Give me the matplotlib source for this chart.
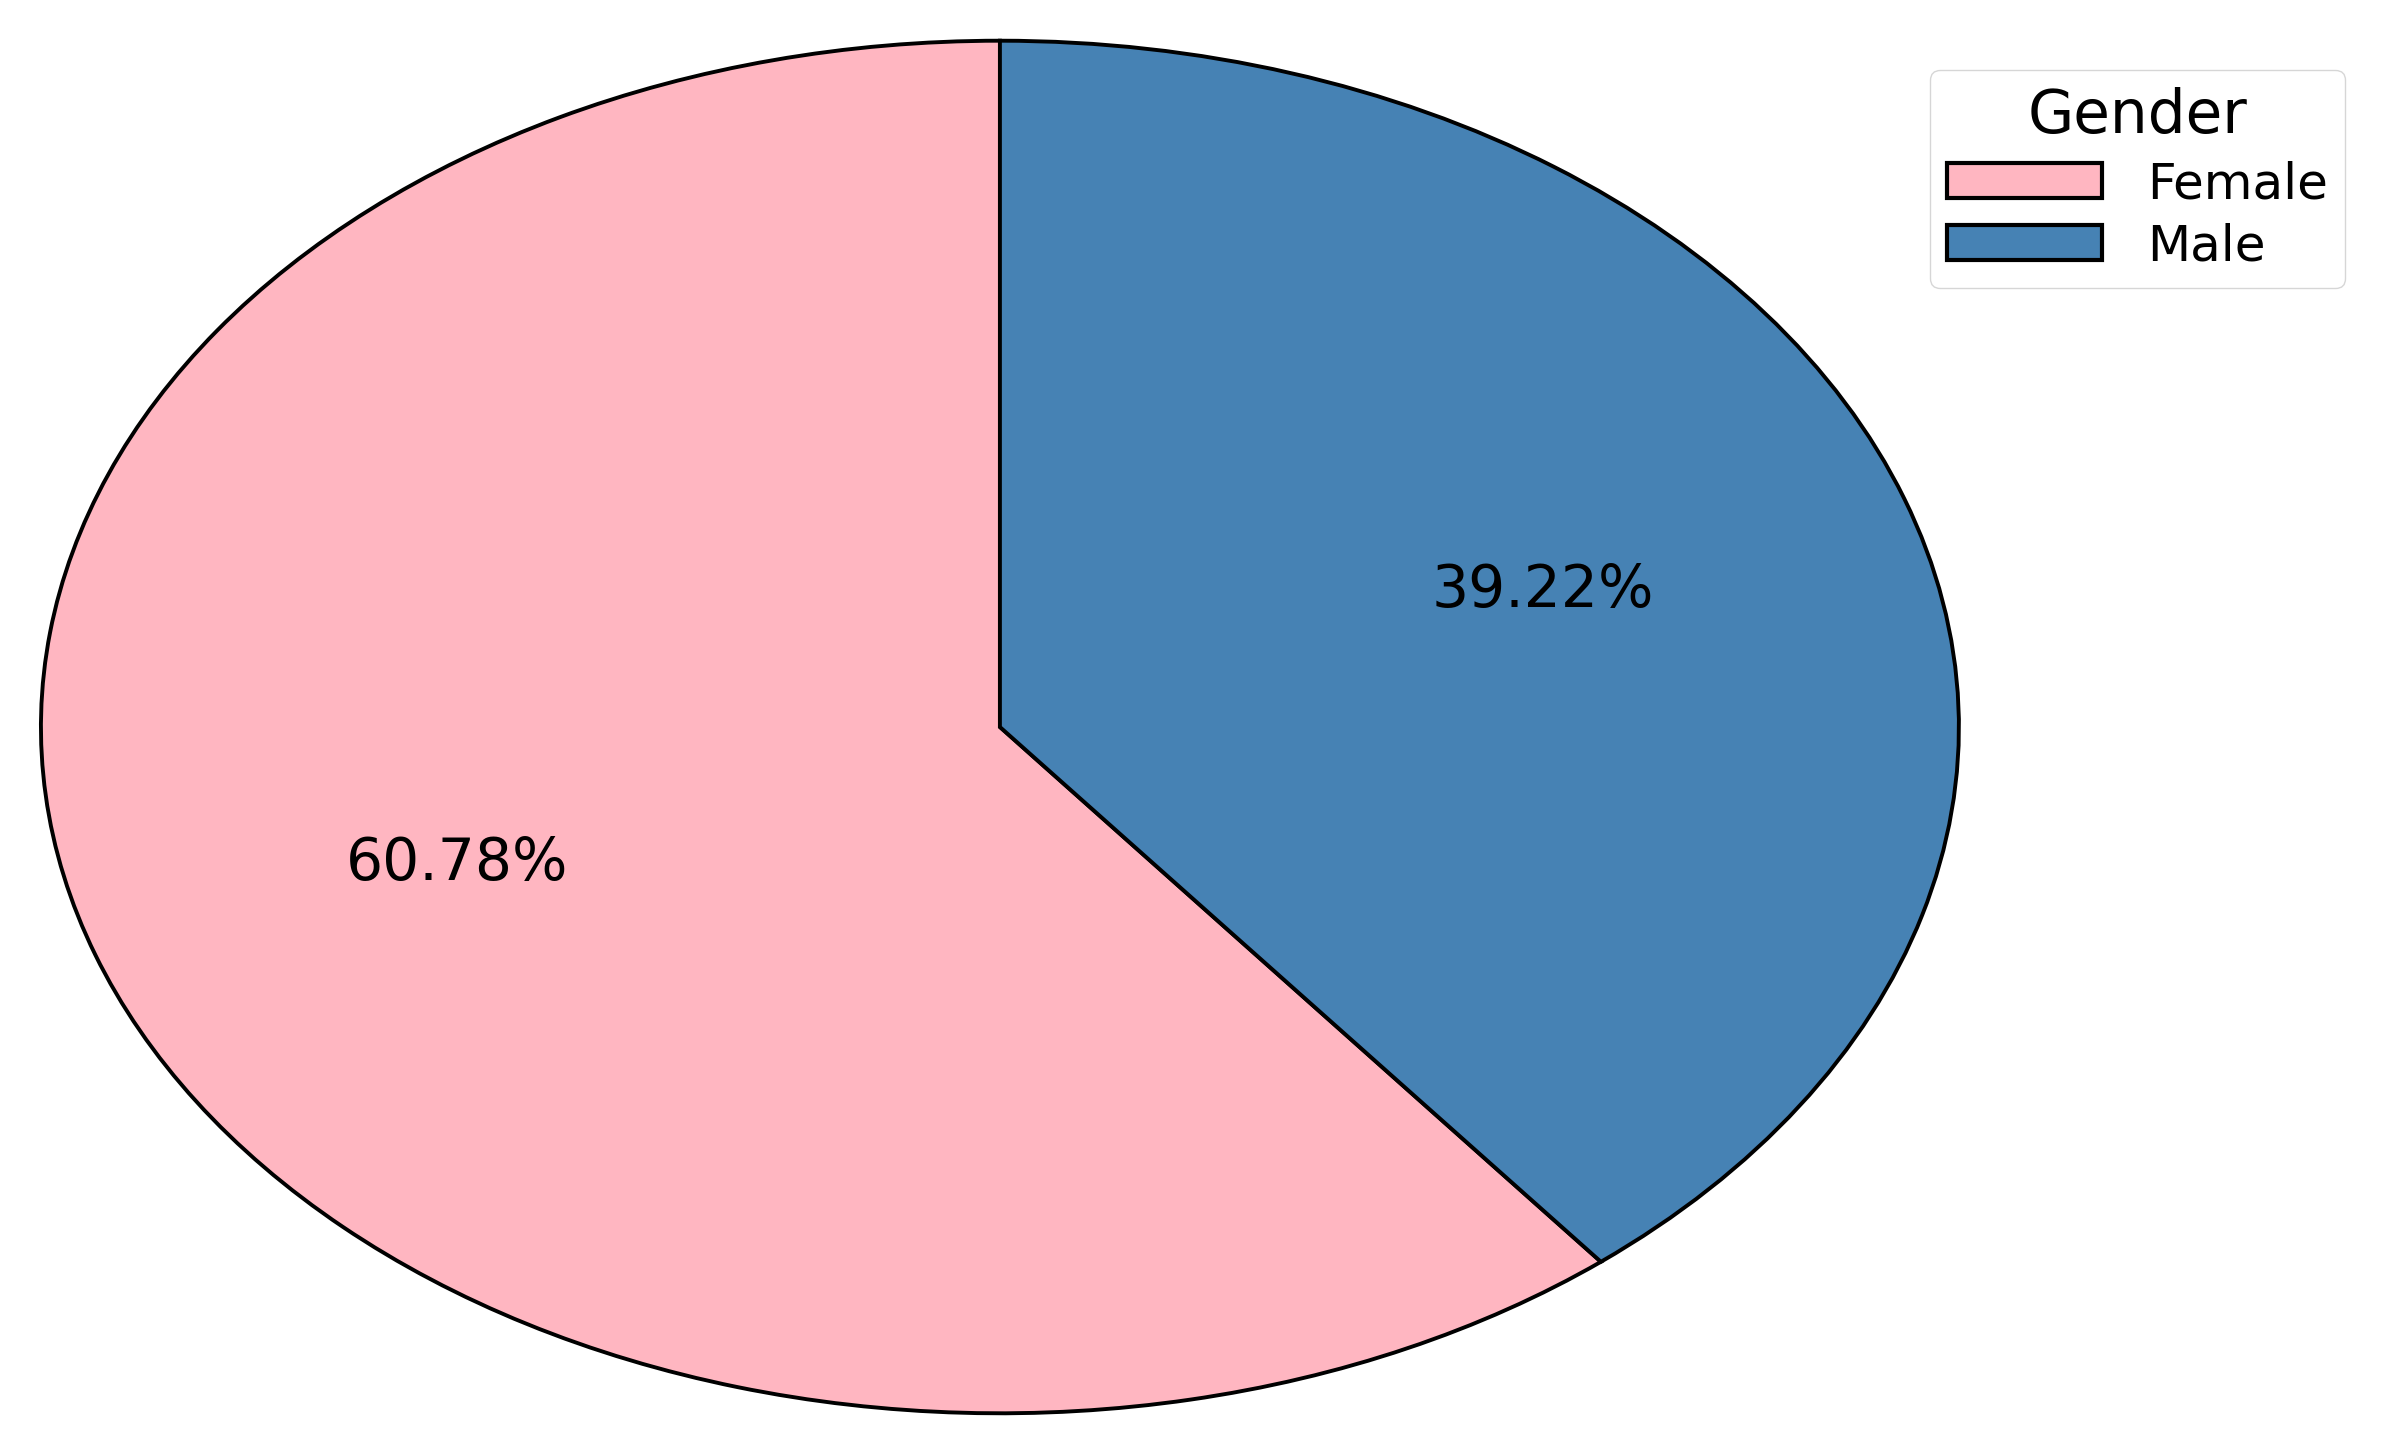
import matplotlib
matplotlib.use("Agg")
from matplotlib import pyplot as plt

# Gender split
labels = ["Female", "Male"]
shares = [60.78, 39.22]
colors = ["lightpink", "steelblue"]

fig = plt.figure(figsize=(24.08, 14.54), dpi=100)
ax = fig.add_axes([0.017, 0.028, 0.7965, 0.944])

wedges, texts, autotexts = ax.pie(
    shares, colors=colors, autopct="%.2f%%", startangle=90,
    pctdistance=0.6,
    wedgeprops={"edgecolor": "black", "linewidth": 2.8},
    textprops={"fontsize": 42},
)
ax.set_aspect("auto")
ax.set_xlim(-1.0, 1.0)
ax.set_ylim(-1.0, 1.0)
for w in wedges:
    w.set_clip_on(False)

leg = ax.legend(wedges, labels, title="Gender", loc="upper right",
                bbox_to_anchor=(0.974, 0.952), bbox_transform=fig.transFigure,
                borderaxespad=0, fontsize=36, title_fontsize=43,
                handlelength=3.1, handleheight=0.7, labelspacing=0.28,
                borderpad=0.35, handletextpad=0.9)
for h in leg.legend_handles:
    h.set_linewidth(3)

fig.savefig("out.png", dpi=100)
